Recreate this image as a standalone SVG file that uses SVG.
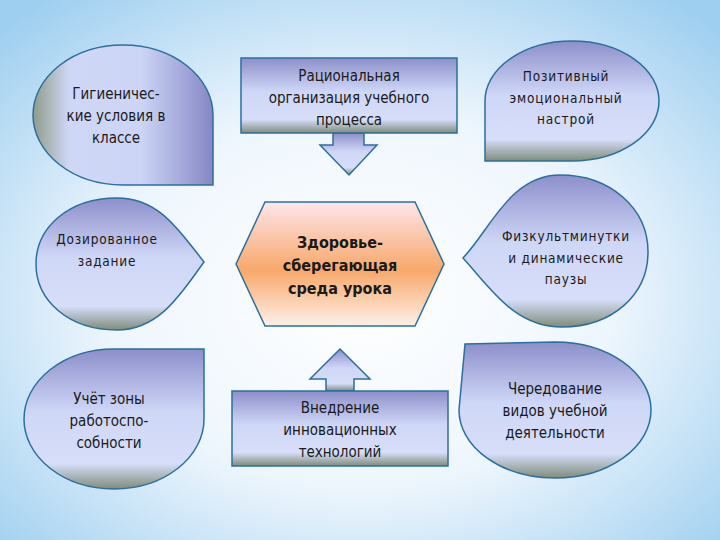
<svg xmlns="http://www.w3.org/2000/svg" width="720" height="540" viewBox="0 0 720 540">
<defs>
<radialGradient id="bg" cx="0.5" cy="0.55" r="0.7">
<stop offset="0" stop-color="#ffffff"/><stop offset="0.5" stop-color="#eef6fd"/><stop offset="1" stop-color="#9fcff0"/>
</radialGradient>
<linearGradient id="sh" x1="0" y1="0" x2="0" y2="1">
<stop offset="0" stop-color="#8d8fca"/><stop offset="0.45" stop-color="#cfd7f7"/><stop offset="0.82" stop-color="#d6def9"/><stop offset="1" stop-color="#7f8c7a"/>
</linearGradient>
<linearGradient id="shh" x1="0" y1="0" x2="1" y2="0">
<stop offset="0" stop-color="#8f9c88"/><stop offset="0.2" stop-color="#cfd7f7"/><stop offset="0.6" stop-color="#cdd5f6"/><stop offset="1" stop-color="#8587c6"/>
</linearGradient>
<linearGradient id="hex" x1="0" y1="0" x2="0" y2="1">
<stop offset="0" stop-color="#fde6ea"/><stop offset="0.55" stop-color="#f8a86a"/><stop offset="1" stop-color="#fdf0e8"/>
</linearGradient>
<style>
.s{fill:url(#sh);stroke:#2b6f9e;stroke-width:1.5}
.h{fill:url(#shh);stroke:#2b6f9e;stroke-width:1.5}
text{font-family:"DejaVu Sans Condensed","DejaVu Sans",sans-serif;font-size:15px;fill:#1a1a1a;text-anchor:middle}
.w{letter-spacing:0.8px;font-size:13.5px}
.b{font-weight:bold;font-size:16px}
</style>
</defs>
<rect width="720" height="540" fill="url(#bg)"/>
<g id="connectors">
<path class="s" d="M333,133 L364,133 L364,145 L377,145 L349,175 L320,145 L333,145 Z"/>
<path class="s" d="M326,391 L354,391 L354,379 L370,379 L340,349 L310,379 L326,379 Z"/>
</g>
<g id="n1"><path class="h" d="M213,185 L123,185 A90,70 0 1 1 213,115 Z"/>
<text x="116" y="99">Гигиеничес-</text><text x="116" y="121">кие условия в</text><text x="116" y="143">классе</text></g>
<g id="n2"><rect class="s" x="241" y="58" width="216" height="75"/>
<text x="349" y="81">Рациональная</text><text x="349" y="103">организация учебного</text><text x="349" y="125">процесса</text></g>
<g id="n3"><path class="s" d="M485,161 L485,101 A87,60 0 1 1 572,161 Z"/>
<text class="w" x="566" y="81">Позитивный</text><text class="w" x="566" y="103">эмоциональный</text><text class="w" x="566" y="124">настрой</text></g>
<g id="n4"><path class="s" d="M204,262 C180,232 160,198 117,198 C68,198 36,228 36,264 C36,300 68,330 117,330 C160,330 182,292 204,262 Z"/>
<text class="w" x="107" y="244">Дозированное</text><text class="w" x="107" y="266">задание</text></g>
<g id="n5"><path d="M265,202 L415,202 L444,264 L415,326 L265,326 L236,264 Z" fill="url(#hex)" stroke="#2b6f9e" stroke-width="1.5"/>
<text class="b" x="340" y="248">Здоровье-</text><text class="b" x="340" y="271">сберегающая</text><text class="b" x="340" y="294">среда урока</text></g>
<g id="n6"><path class="s" d="M463,258 C490,230 510,175 560,175 C610,175 648,208 648,252 C648,295 612,327 562,327 C515,327 492,290 463,258 Z"/>
<text class="w" x="566" y="241">Физкультминутки</text><text class="w" x="566" y="263">и динамические</text><text class="w" x="566" y="284">паузы</text></g>
<g id="n7"><path class="s" d="M204,349 L204,419 A90,70 0 1 1 114,349 Z"/>
<text x="109" y="404">Учёт зоны</text><text x="109" y="426">работоспо-</text><text x="109" y="448">собности</text></g>
<g id="n8"><rect class="s" x="232" y="391" width="216" height="75"/>
<text x="340" y="413">Внедрение</text><text x="340" y="435">инновационных</text><text x="340" y="457">технологий</text></g>
<g id="n9"><path class="s" d="M465,344 L555,342 A96,68 0 1 1 459,410 Z"/>
<text x="555" y="394">Чередование</text><text x="555" y="416">видов учебной</text><text x="555" y="438">деятельности</text></g>
</svg>
